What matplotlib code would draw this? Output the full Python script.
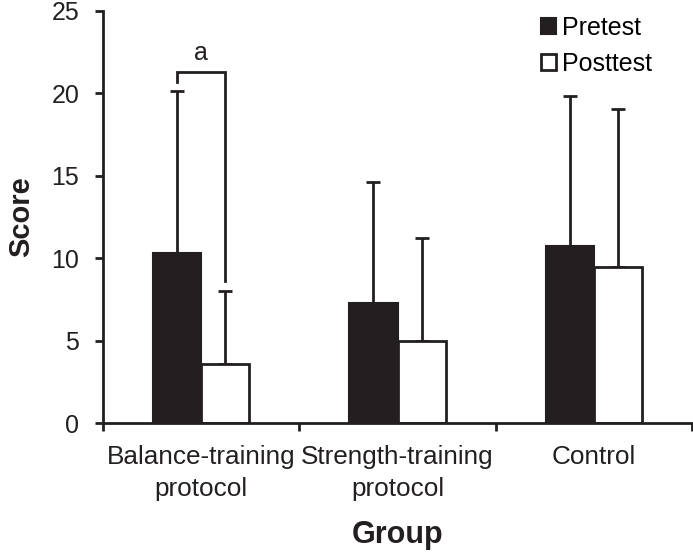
import matplotlib
matplotlib.use('Agg')
import matplotlib.pyplot as plt
from matplotlib.patches import Patch
import numpy as np

plt.rcParams['font.family'] = ['Liberation Sans', 'DejaVu Sans']

groups = ['Balance-training\nprotocol', 'Strength-training\nprotocol', 'Control']
pretest = [10.3, 7.3, 10.75]
posttest = [3.58, 4.98, 9.45]
pre_sd = [9.85, 7.3, 9.1]
post_sd = [4.4, 6.26, 9.62]

fig = plt.figure(figsize=(6.93, 5.6), dpi=100)
ax = fig.add_axes([0.1486, 0.2446, 0.85, 0.7358])

x = np.arange(len(groups))
w = 0.245
ax.bar(x - w / 2, pretest, w, color='#231f20', edgecolor='#231f20', linewidth=1.5, zorder=2)
ax.bar(x + w / 2, posttest, w, color='white', edgecolor='#231f20', linewidth=2, zorder=2)
ax.errorbar(x - w / 2, pretest, yerr=[np.zeros(3), pre_sd], fmt='none', ecolor='#231f20',
            elinewidth=2, capsize=5, capthick=2, zorder=1)
ax.errorbar(x + w / 2, posttest, yerr=[np.zeros(3), post_sd], fmt='none', ecolor='#231f20',
            elinewidth=2, capsize=5, capthick=2, zorder=1)

# significance bracket
ax.plot([x[0] - w / 2, x[0] - w / 2, x[0] + w / 2, x[0] + w / 2], [20.7, 21.3, 21.3, 8.6],
        color='#231f20', lw=2, solid_joinstyle='miter')
ax.text(x[0], 22.0, 'a', ha='center', va='baseline', fontsize=18, color='#231f20')

ax.set_xlim(-0.5, 2.5)
ax.set_ylim(0, 25)
ax.set_yticks([0, 5, 10, 15, 20, 25])
ax.set_xticks([-0.5, 0.5, 1.5, 2.5])
ax.set_xticklabels([])
ax.set_xticks(x, minor=True)
ax.set_xticklabels(groups, minor=True, linespacing=1.4)
ax.tick_params(axis='x', which='minor', length=0, pad=16, labelsize=18.8, colors='#231f20')
ax.tick_params(axis='x', which='major', length=6, width=2, direction='out', color='#231f20')
ax.tick_params(axis='y', length=6, width=2, direction='out', labelsize=18, pad=11,
               color='#231f20', labelcolor='#231f20')
for s in ['top', 'right']:
    ax.spines[s].set_visible(False)
for s in ['left', 'bottom']:
    ax.spines[s].set_linewidth(2)
    ax.spines[s].set_color('#231f20')

ax.set_ylabel('Score', fontsize=21, fontweight='bold', labelpad=12, color='#231f20')
ax.set_xlabel('Group', fontsize=22, fontweight='bold', labelpad=14, color='#231f20')

handles = [Patch(facecolor='#231f20', edgecolor='#231f20', linewidth=1.5),
           Patch(facecolor='white', edgecolor='#231f20', linewidth=2)]
fig.legend(handles, ['Pretest', 'Posttest'], loc='upper left', bbox_to_anchor=(0.781, 0.972),
           frameon=False, fontsize=18, handlelength=0.6, handleheight=0.6,
           handletextpad=0.25, labelspacing=0.5, borderpad=0, borderaxespad=0)

fig.savefig('out.png', dpi=100)
